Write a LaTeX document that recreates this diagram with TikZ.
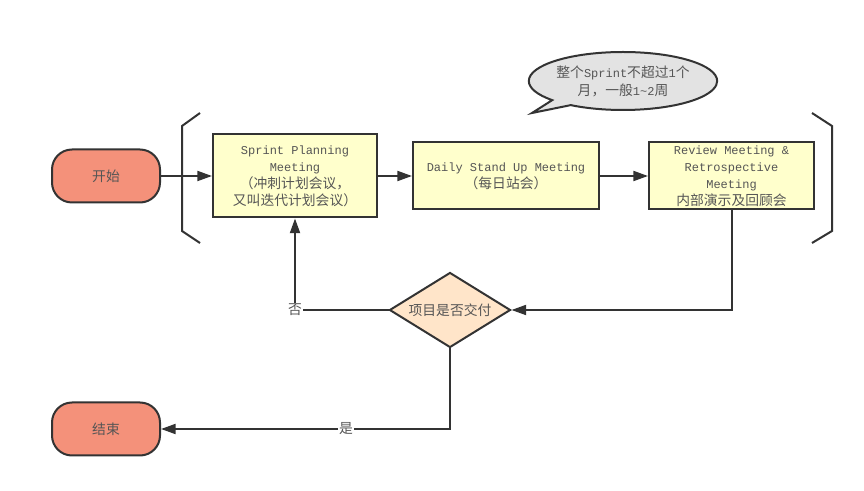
\documentclass[tikz,border=0pt]{standalone}
\usepackage{fontspec}
\setmainfont{Liberation Mono}
\newfontfamily\cjk[Scale=1.15]{Noto Sans CJK SC}
\usetikzlibrary{arrows.meta,shapes.geometric,shapes.callouts}
\definecolor{lineColor}{HTML}{333333}
\definecolor{textColor}{HTML}{555555}
\definecolor{termColor}{HTML}{F4917A}
\definecolor{taskColor}{HTML}{FFFFCC}
\definecolor{decideColor}{HTML}{FFE5C9}
\definecolor{noteColor}{HTML}{E3E3E3}

\begin{document}
\begin{tikzpicture}[
x=0.75pt,y=-0.75pt,
line width=1.5pt,
font=\fontsize{9}{12.75}\selectfont,
term/.style={draw=lineColor,fill=termColor,rounded corners=15pt,minimum width=81pt,minimum height=39.75pt,font=\cjk\fontsize{9}{12.75}\selectfont,text=textColor},
task/.style={draw=lineColor,fill=taskColor,align=center,inner sep=0pt,text=textColor},
decide/.style={diamond,draw=lineColor,fill=decideColor,aspect=1.6,inner sep=0pt,minimum width=90.75pt,minimum height=56.25pt,font=\cjk\fontsize{9}{12.75}\selectfont,text=textColor},
note/.style={ellipse callout,draw=lineColor,fill=noteColor,align=center,inner sep=0pt,minimum width=136.5pt,minimum height=43.5pt,font=\fontsize{9}{13.5}\selectfont,text=textColor},
tag/.style={fill=white,inner sep=1pt,font=\cjk\fontsize{9}{12.75}\selectfont,text=textColor},
link/.style={draw=lineColor,-{Triangle[length=11pt,width=7.5pt]}},
brace/.style={draw=lineColor},
]
\useasboundingbox (0,0) rectangle (864,491);

\node[term] (start) at (106,176) {开始};
\node[task,minimum width=123pt,minimum height=62.25pt] (plan) at (295,176)
    {Sprint Planning\\Meeting\\{\cjk （冲刺计划会议，}\\{\cjk 又叫迭代计划会议）}};
\node[task,minimum width=139.5pt,minimum height=50.25pt] (daily) at (506,176)
    {Daily Stand Up Meeting\\{\cjk （每日站会）}};
\node[task,minimum width=123.75pt,minimum height=50.25pt] (review) at (731.5,176)
    {Review Meeting \&\\Retrospective\\Meeting\\{\cjk 内部演示及回顾会}};
\node[decide] (check) at (450,310) {项目是否交付};
\node[term] (finish) at (106,429) {结束};

\coordinate (tip) at (532,113);
\node[note,callout absolute pointer={(tip)}] (span) at (623,81)
    {{\cjk 整个}Sprint{\cjk 不超过}1{\cjk 个}\\{\cjk 月，一般}1\string~2{\cjk 周}};

% sprint brackets
\draw[brace] (200,113) -- (182,126) -- (182,231) -- (200,243);
\draw[brace] (812,113) -- (832,126) -- (832,231) -- (812,243);

\draw[link] (start) -- (plan);
\draw[link] (plan) -- (daily);
\draw[link] (daily) -- (review);
\draw[link] (review.south) |- (check.east);
\draw[link] (check.west) -| node[tag,pos=0.5] {否} (plan.south);
\draw[link] (check.south) |- node[tag,pos=0.68] {是} (finish.east);
\end{tikzpicture}
\end{document}
